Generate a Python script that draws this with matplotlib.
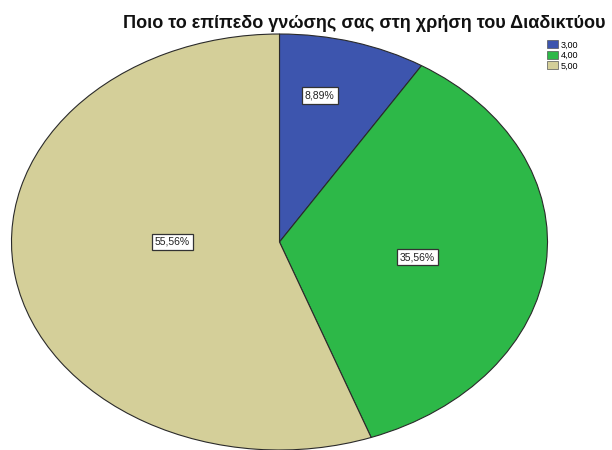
import numpy as np
import matplotlib.pyplot as plt
from matplotlib.patches import Patch

# ==============================
# Data
# ==============================
categories = ["3,00", "4,00", "5,00"]
counts = [4, 16, 25]
pct_labels = ["8,89%", "35,56%", "55,56%"]
colors = ["#3d55ae", "#2db848", "#d4cf99"]

title = "Ποιο το επίπεδο γνώσης σας στη χρήση του Διαδικτύου"

plt.rcParams["font.family"] = ["Liberation Sans", "DejaVu Sans"]

fig = plt.figure(figsize=(6.12, 4.5), dpi=100)

# stretched pie (SPSS style ellipse)
cx, cy, rx, ry = 279.5, 242, 268, 208
ax = fig.add_axes([(cx - rx) / 612, 1 - (cy + ry) / 450, 2 * rx / 612, 2 * ry / 450])

wedges, _ = ax.pie(
    counts,
    colors=colors,
    startangle=90,
    counterclock=False,
    wedgeprops=dict(edgecolor="#2a2a2a", linewidth=0.8),
)
ax.set_aspect("auto")
ax.set_xlim(-1, 1)
ax.set_ylim(-1, 1)

# label positions: angle (deg) and radius inside each wedge
label_pos = [(78, 0.72), (-8, 0.52), (180, 0.40)]
for text, (ang, r) in zip(pct_labels, label_pos):
    a = np.deg2rad(ang)
    ax.text(r * np.cos(a), r * np.sin(a), text, ha="center", va="center",
            fontsize=7.5, color="#222222",
            bbox=dict(boxstyle="square,pad=0.3", facecolor="white",
                      edgecolor="#333333", linewidth=0.9))

fig.text(364.5 / 612, 1 - 23 / 450, title, ha="center", va="center",
         fontsize=13, fontweight="bold", color="#111111")

handles = [Patch(facecolor=c, edgecolor="#555555", linewidth=0.5) for c in colors]
fig.legend(handles, categories, loc="upper left",
           bbox_to_anchor=(541 / 612, 1 - 34 / 450),
           frameon=False, fontsize=6.5, handlelength=1.2, handleheight=1.0,
           handletextpad=0.3, labelspacing=0.15, borderpad=0.2)

plt.savefig("out.png", dpi=100)
